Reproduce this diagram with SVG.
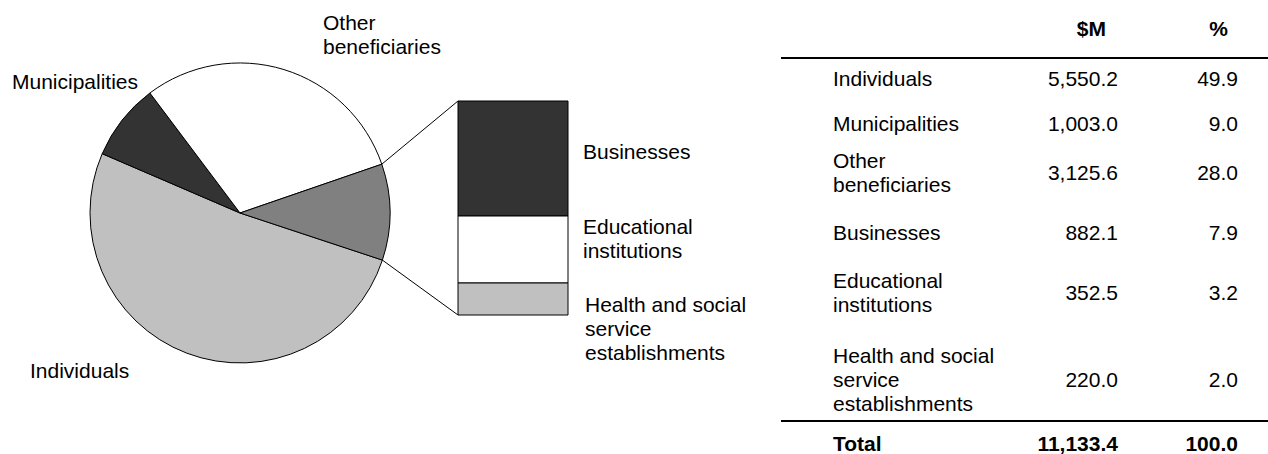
<svg xmlns="http://www.w3.org/2000/svg" width="1268" height="454" viewBox="0 0 1268 454">
<style>
  text { font-family: "Liberation Sans", Arial, sans-serif; font-size: 21px; fill: #000; }
  .b { font-weight: bold; }
  .r { text-anchor: end; }
  .sl { stroke: #000; stroke-width: 1; stroke-linejoin: round; }
  .ln { stroke: #000; stroke-width: 1; fill: none; }
  .rule { stroke: #000; stroke-width: 2; }
</style>
<rect width="1268" height="454" fill="#fff"/>
<g id="pie">
  <path class="sl" fill="#c0c0c0" d="M240,213 L382.4,260.1 A150,150 0 1 1 102.2,153.7 Z"/>
  <path class="sl" fill="#333333" d="M240,213 L102.2,153.7 A150,150 0 0 1 149.9,93.0 Z"/>
  <path class="sl" fill="#ffffff" d="M240,213 L149.9,93.0 A150,150 0 0 1 381.8,164.2 Z"/>
  <path class="sl" fill="#808080" d="M240,213 L381.8,164.2 A150,150 0 0 1 382.4,260.1 Z"/>
</g>
<g id="bar">
  <rect class="sl" fill="#333333" x="458" y="101" width="110" height="115"/>
  <rect class="sl" fill="#ffffff" x="458" y="216" width="110" height="67"/>
  <rect class="sl" fill="#c0c0c0" x="458" y="283" width="110" height="32"/>
</g>
<g id="connectors">
  <line class="ln" x1="381.8" y1="164.2" x2="458" y2="101"/>
  <line class="ln" x1="382.4" y1="260.1" x2="458" y2="315"/>
</g>
<g id="pie-labels">
  <text x="323" y="30">Other</text>
  <text x="323" y="54">beneficiaries</text>
  <text x="12" y="89">Municipalities</text>
  <text x="30" y="378">Individuals</text>
  <text x="583" y="159">Businesses</text>
  <text x="583" y="234">Educational</text>
  <text x="583" y="258">institutions</text>
  <text x="585" y="312">Health and social</text>
  <text x="585" y="336">service</text>
  <text x="585" y="360">establishments</text>
</g>
<g id="table">
  <text class="b r" x="1106" y="36">$M</text>
  <text class="b r" x="1228" y="36">%</text>
  <line class="rule" x1="781" y1="58" x2="1268" y2="58"/>
  <text x="833" y="86">Individuals</text>
  <text class="r" x="1118" y="86">5,550.2</text>
  <text class="r" x="1238" y="86">49.9</text>
  <text x="833" y="131">Municipalities</text>
  <text class="r" x="1118" y="131">1,003.0</text>
  <text class="r" x="1238" y="131">9.0</text>
  <text x="833" y="168">Other</text>
  <text x="833" y="192">beneficiaries</text>
  <text class="r" x="1118" y="180">3,125.6</text>
  <text class="r" x="1238" y="180">28.0</text>
  <text x="833" y="240">Businesses</text>
  <text class="r" x="1118" y="240">882.1</text>
  <text class="r" x="1238" y="240">7.9</text>
  <text x="833" y="288">Educational</text>
  <text x="833" y="312">institutions</text>
  <text class="r" x="1118" y="300">352.5</text>
  <text class="r" x="1238" y="300">3.2</text>
  <text x="833" y="363">Health and social</text>
  <text x="833" y="387">service</text>
  <text x="833" y="411">establishments</text>
  <text class="r" x="1118" y="387">220.0</text>
  <text class="r" x="1238" y="387">2.0</text>
  <line class="rule" x1="781" y1="421" x2="1268" y2="421"/>
  <text class="b" x="833" y="451">Total</text>
  <text class="b r" x="1118" y="451">11,133.4</text>
  <text class="b r" x="1238" y="451">100.0</text>
</g>
</svg>
